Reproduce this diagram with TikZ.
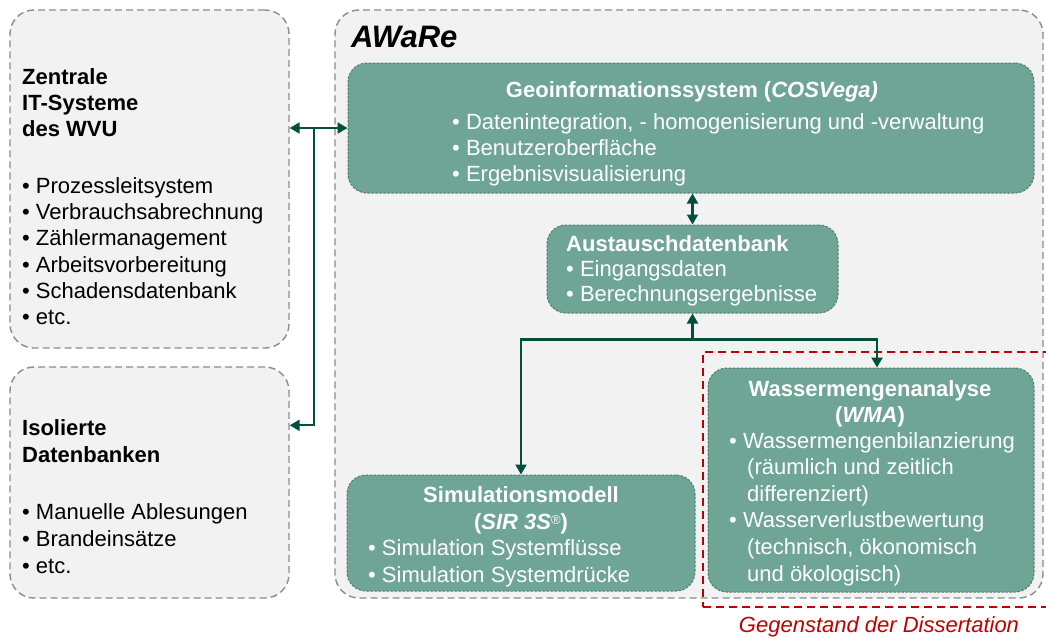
\documentclass[tikz,border=0pt]{standalone}
\usepackage{fontspec}
\setmainfont{Liberation Sans}
\usetikzlibrary{positioning,arrows.meta}
\definecolor{hgrau}{HTML}{F2F2F2}
\definecolor{rgrau}{HTML}{8C8C8C}
\definecolor{gfill}{HTML}{6FA595}
\definecolor{grand}{HTML}{4E7D70}
\definecolor{dgruen}{HTML}{00503C}
\definecolor{drot}{HTML}{C00000}

\begin{document}
\begin{tikzpicture}[x=1pt,y=-1pt,
  >={Triangle[length=10pt,width=11pt]},
  graubox/.style={draw=rgrau, fill=hgrau, line width=1.4pt, dash pattern=on 7pt off 4pt, rounded corners=24pt},
  gruenbox/.style={draw=grand, fill=gfill, line width=1pt, dash pattern=on 2.5pt off 1.5pt, rounded corners=19pt},
  txt/.style={inner sep=0pt, align=left, font=\fontsize{22}{26}\selectfont},
  wtxt/.style={txt, text=white},
  pfeil/.style={draw=dgruen, line width=2.2pt, ->},
  dpfeil/.style={draw=dgruen, line width=2.2pt, <->}]
  \useasboundingbox (0,0) rectangle (1046,637);

  \node[graubox, minimum width=279, minimum height=338] (zentral) at (149.5,179) {};
  \node[graubox, minimum width=279, minimum height=231] (isoliert) at (149.5,482.5) {};
  \node[graubox, minimum width=708, minimum height=588] (aware) at (689,304) {};

  \node[gruenbox, minimum width=686, minimum height=130] (geo) at (691,128) {};
  \node[gruenbox, minimum width=291, minimum height=88] (aus) at (692.5,269) {};
  \node[gruenbox, minimum width=348, minimum height=116] (sim) at (521,533) {};
  \node[gruenbox, minimum width=326, minimum height=224] (wma) at (871,480) {};

  \node[draw=drot, line width=1.5pt, dash pattern=on 8pt off 5pt, minimum width=352, minimum height=255] (rahmen) at (879,479.5) {};
  \node[below=9pt of rahmen, txt, text=drot, font=\fontsize{22}{26}\selectfont\itshape] (gegenstand) {Gegenstand der Dissertation};

  \node[txt, anchor=north west, font=\fontsize{22}{26}\selectfont\bfseries] (zentraltitel) at (22,68) {Zentrale\\IT-Systeme\\des WVU};
  \node[txt, anchor=north west, font=\fontsize{22}{26.3}\selectfont] (zentralliste) at (22,177) {• Prozessleitsystem\\• Verbrauchsabrechnung\\• Zählermanagement\\• Arbeitsvorbereitung\\• Schadensdatenbank\\• etc.};
  \node[txt, anchor=north west, font=\fontsize{22}{27}\selectfont\bfseries] (isotitel) at (22,419) {Isolierte\\Datenbanken};
  \node[txt, anchor=north west, font=\fontsize{22}{27}\selectfont] (isoliste) at (22,503) {• Manuelle Ablesungen\\• Brandeinsätze\\• etc.};

  \node[txt, anchor=base west, font=\fontsize{31}{36}\selectfont\bfseries\itshape] (awaretitel) at (351,47) {AWaRe};

  \node[wtxt, anchor=base, font=\fontsize{22}{26}\selectfont\bfseries] (geotitel) at (692,97) {Geoinformationssystem (\textit{COSVega)}};
  \node[wtxt, anchor=north west] (geoliste) at (452,113) {• Datenintegration, - homogenisierung und -verwaltung\\• Benutzeroberfläche\\• Ergebnisvisualisierung};

  \node[wtxt, anchor=north west, font=\fontsize{22}{25}\selectfont] (austext) at (566,235) {\textbf{Austauschdatenbank}\\• Eingangsdaten\\• Berechnungsergebnisse};

  \node[wtxt, anchor=north, align=center, font=\fontsize{22}{27}\selectfont\bfseries] (simtitel) at (521,486) {Simulationsmodell\\(\textit{SIR 3S}{\normalfont\fontsize{13}{13}\selectfont\raisebox{5pt}{®}})};
  \node[wtxt, anchor=north west, font=\fontsize{22}{27}\selectfont] (simliste) at (368,539) {• Simulation Systemflüsse\\• Simulation Systemdrücke};

  \node[wtxt, anchor=north, align=center, font=\fontsize{22}{26}\selectfont\bfseries] (wmatitel) at (870,380) {Wassermengenanalyse\\(\textit{WMA})};
  \node[wtxt, anchor=north west, font=\fontsize{22}{26.6}\selectfont] (wmaliste) at (729,432) {• Wassermengenbilanzierung\\\hspace*{18pt}(räumlich und zeitlich\\\hspace*{18pt}differenziert)\\• Wasserverlustbewertung\\\hspace*{18pt}(technisch, ökonomisch\\\hspace*{18pt}und ökologisch)};

  \draw[dpfeil] (geo.west -| zentral.east) -- (geo.west);
  \coordinate (knick) at (314,128);
  \path (isoliert.north east) ++(0,59) coordinate (isoein);
  \draw[pfeil] (knick) |- (isoein);

  \draw[dpfeil] (geo.south -| aus.north) -- (aus.north);
  \path (aus.south) ++(0,26) coordinate (verteil);
  \path (wma.north) ++(6,0) coordinate (wmaein);
  \draw[pfeil] (verteil) -- (aus.south);
  \draw[pfeil] (verteil) -| (sim.north);
  \draw[pfeil] (verteil) -| (wmaein);
\end{tikzpicture}
\end{document}
